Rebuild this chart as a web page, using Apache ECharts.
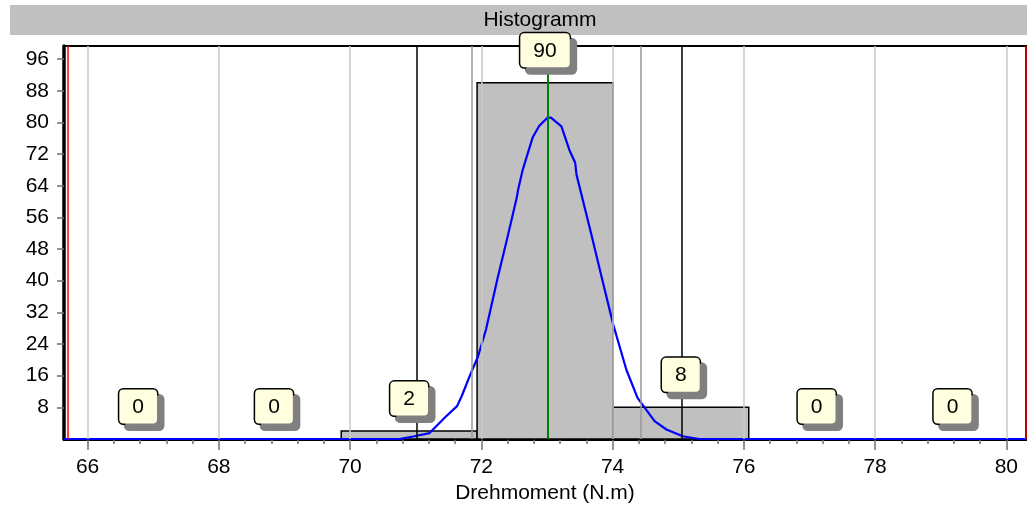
<!DOCTYPE html>
<html>
<head>
<meta charset="utf-8">
<script src="https://cdn.jsdelivr.net/npm/echarts@6/dist/echarts.min.js"></script>
<style>html,body{margin:0;padding:0;background:#fff}#c{width:1027px;height:509px}</style>
</head>
<body>
<div id="c"></div>
<script>
// ---- data ----
const titleText = 'Histogramm';
const xAxisName = 'Drehmoment (N.m)';
const binCenters = [66.77, 68.84, 70.90, 72.97, 75.04, 77.11, 79.18];
const binWidth = 2.07;
const binCounts = [0, 0, 2, 90, 8, 0, 0];
const xTickValues = [66, 68, 70, 72, 74, 76, 78, 80];
const yTickValues = [8, 16, 24, 32, 40, 48, 56, 64, 72, 80, 88, 96];
const curveX = [65.64, 70.75, 70.98, 71.21, 71.46, 71.63, 71.70, 71.82, 71.95, 72.07, 72.25, 72.39, 72.54, 72.56, 72.63, 72.78, 72.88, 73.01, 73.06, 73.22, 73.34, 73.43, 73.45, 73.67, 73.83, 74.01, 74.21, 74.38, 74.64, 74.82, 75.07, 75.32, 80.30];
const curveY = [0, 0, 0.7, 1.5, 5.7, 8.3, 10.8, 15.8, 20.9, 27.6, 40.8, 50.4, 61.0, 63.0, 68.0, 76.1, 79.1, 81.2, 81.2, 79.0, 73.1, 69.8, 66.8, 52.1, 41.1, 28.9, 17.5, 10.4, 4.5, 2.4, 0.7, 0, 0];
const specLimits = [65.70, 80.29];
const blackLines = [71.01, 75.06];
const grayLines = [71.85, 74.43];
const meanLine = 73.01;

const xMin = 65.64, xMax = 80.3, yMax = 99.3;
const FONT = 'Liberation Sans, Arial, sans-serif';

const minorTicks = [];
for (let i = 0; i < xTickValues.length; i++) {
  for (let k = 1; k < 5; k++) {
    const v = +(xTickValues[i] + k * 0.4).toFixed(2);
    if (v < xMax) minorTicks.push(v);
  }
}

const chart = echarts.init(document.getElementById('c'), null, {renderer: 'canvas'});

function vLines(vals, color, width) {
  return vals.map(v => ({xAxis: v, lineStyle: {color: color, width: width, type: 'solid'}}));
}

const option = {
  animation: false,
  backgroundColor: '#fff',
  graphic: [
    {type: 'rect', left: 10, top: 5, shape: {width: 1017, height: 30}, style: {fill: '#C0C0C0'}, z: 0},
    {type: 'text', x: 540, y: 20, style: {text: titleText, font: '21px ' + FONT, fill: '#000', align: 'center', verticalAlign: 'middle'}, z: 1}
  ],
  grid: {left: 64, right: 1, top: 46, bottom: 70, show: true, borderColor: '#000', borderWidth: 2, backgroundColor: '#fff'},
  xAxis: [
    {
      type: 'value', min: xMin, max: xMax, position: 'bottom',
      name: xAxisName, nameLocation: 'middle', nameGap: 44,
      nameTextStyle: {fontFamily: FONT, fontSize: 21, color: '#000'},
      axisLine: {show: true, onZero: false, lineStyle: {color: '#000', width: 3}},
      axisTick: {show: true, customValues: xTickValues, length: 11, lineStyle: {color: '#707070', width: 1.5}},
      axisLabel: {show: true, customValues: xTickValues, margin: 18, fontFamily: FONT, fontSize: 21, color: '#000'},
      splitLine: {show: false}
    },
    {
      type: 'value', min: xMin, max: xMax, position: 'bottom',
      axisLine: {show: false},
      axisTick: {show: true, customValues: minorTicks, length: 5, lineStyle: {color: '#707070', width: 1.5}},
      axisLabel: {show: false},
      splitLine: {show: false}
    }
  ],
  yAxis: {
    type: 'value', min: 0, max: yMax,
    axisLine: {show: true, onZero: false, lineStyle: {color: '#000', width: 3.5}},
    axisTick: {show: true, customValues: yTickValues, length: 7, lineStyle: {color: '#707070', width: 1.5}},
    axisLabel: {show: true, customValues: yTickValues, margin: 15, fontFamily: FONT, fontSize: 21, color: '#000'},
    splitLine: {show: false}
  },
  series: [
    {
      type: 'line', data: [], z: 1, silent: true,
      markLine: {silent: true, symbol: 'none', label: {show: false}, animation: false,
        data: vLines(xTickValues, '#C8C8C8', 1.5)}
    },
    {
      type: 'custom', z: 2, silent: true,
      data: binCenters.map((c, i) => [c, binCounts[i]]),
      renderItem: function (params, api) {
        const c = api.value(0), v = api.value(1);
        const p0 = api.coord([c - binWidth / 2, 0]);
        const p1 = api.coord([c + binWidth / 2, v]);
        return {type: 'rect', shape: {x: p0[0], y: p1[1], width: p1[0] - p0[0], height: p0[1] - p1[1]},
          style: {fill: '#C0C0C0', stroke: '#000', lineWidth: 1.5}};
      }
    },
    {
      type: 'line', data: [], z: 3, silent: true,
      markLine: {silent: true, symbol: 'none', label: {show: false}, animation: false,
        data: [].concat(vLines(grayLines, '#999999', 1.5), vLines(blackLines, '#000000', 1.5),
          vLines([meanLine], '#008000', 2), vLines(specLimits, '#FF0000', 1.5))}
    },
    {
      type: 'line', z: 4, silent: true, showSymbol: false, symbol: 'none',
      data: curveX.map((x, i) => [x, curveY[i]]),
      lineStyle: {color: '#0000FF', width: 2.2}
    },
    {
      type: 'scatter', z: 10, silent: true, symbolSize: 1, itemStyle: {color: 'rgba(0,0,0,0)', opacity: 1},
      data: binCenters.map((c, i) => [c, binCounts[i]]),
      label: {
        show: true, position: 'top', distance: 15,
        formatter: p => String(p.value[1]),
        fontFamily: FONT, fontSize: 21, color: '#000',
        backgroundColor: '#FFFFE0', borderColor: '#000', borderWidth: 1.5, borderRadius: 4,
        padding: [7, 13, 6, 13],
        shadowColor: '#808080', shadowOffsetX: 6, shadowOffsetY: 6, shadowBlur: 0
      }
    }
  ]
};
chart.setOption(option);
</script>
</body>
</html>
